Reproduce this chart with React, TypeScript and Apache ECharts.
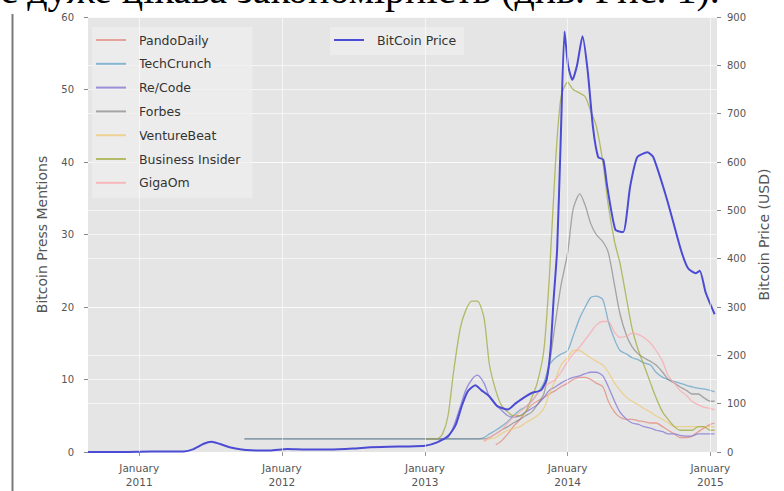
import React, { useEffect, useRef } from 'react';
import * as echarts from 'echarts';

// ---- data ----
const mentionDates = [
  '2011-09-27', '2012-06-01', '2013-01-01', '2013-02-01', '2013-02-15', '2013-03-01', '2013-03-15',
  '2013-04-01', '2013-04-15', '2013-05-01', '2013-05-15', '2013-06-01', '2013-06-15', '2013-07-01',
  '2013-07-15', '2013-08-01', '2013-08-15', '2013-09-01', '2013-09-15', '2013-10-01', '2013-10-15',
  '2013-11-01', '2013-11-15', '2013-12-01', '2013-12-15', '2014-01-01', '2014-01-15', '2014-02-01',
  '2014-02-15', '2014-03-01', '2014-03-15', '2014-04-01', '2014-04-15', '2014-05-01', '2014-05-15',
  '2014-06-01', '2014-06-15', '2014-07-01', '2014-07-15', '2014-08-01', '2014-08-15', '2014-09-01',
  '2014-09-15', '2014-10-01', '2014-10-15', '2014-11-01', '2014-11-15', '2014-12-01', '2014-12-15',
  '2015-01-01', '2015-01-12',
];

const pandoDaily = [
  null, null, null, null, null, null, null, null, null, null, null, null, null, 1.0,
  1.5, 2.5, 3.5, 4.5, 5.5, 6.5, 7, 7.5, 8, 8.5, 9, 9.5, 10, 10.3,
  10.3, 10, 9.5, 9, 7, 5.5, 4.8, 4.5, 4.5, 4.3, 4.2, 4, 4, 3.5,
  3, 2.5, 2, 2, 2.2, 2.8, 3.3, 3.8, 4,
];
const techCrunch = [
  1.8, 1.8, 1.8, 1.8, 1.8, 1.8, 1.8, 1.8, 1.8, 1.8, 1.8, 2.0, 2.5, 3.0,
  3.5, 4.2, 5.0, 5.8, 6.2, 7.0, 8.0, 9.5, 12, 13, 13.5, 14, 16, 18.5,
  20, 21.3, 21.5, 21, 18, 15.5, 14, 13.5, 13, 12.7, 12.3, 12, 11, 10.3,
  10, 9.7, 9.5, 9.2, 9, 8.8, 8.7, 8.5, 8.3,
];
const reCode = [
  null, null, 1.8, 1.8, 1.8, 2, 3.5, 6.2, 8.5, 10, 10.6, 9.5, 7.6, 6.5,
  5.8, 5, 4.8, 5, 5.5, 6, 6.5, 7.5, 8.5, 9, 9.5, 10, 10.3, 10.5,
  10.8, 11, 11, 10.5, 9, 7, 5.5, 4.5, 4, 3.8, 3.5, 3.3, 3, 2.8,
  2.5, 2.5, 2.3, 2.2, 2.2, 2.5, 2.5, 2.5, 2.5,
];
const forbes = [
  1.8, 1.8, 1.8, 1.8, 1.8, 1.8, 1.8, 1.8, 1.8, 1.8, 1.8, 1.8, 2.0, 2.5,
  3.0, 3.5, 4.0, 4.5, 5.0, 5.5, 6.5, 8, 12, 18, 23, 27.5, 33.5, 35.6,
  34, 31.5, 30, 29, 27.5, 23, 19, 16, 14.5, 13.5, 13, 12.5, 12, 11,
  10, 9.5, 9, 8.5, 8, 8, 7.5, 7, 7,
];
const ventureBeat = [
  null, null, null, null, null, null, null, null, null, null, null, 1.5, 1.8, 2,
  2.5, 3, 3.2, 3.5, 4, 4.5, 5, 6, 8, 10, 12, 13, 14, 14,
  13.5, 13, 12.5, 12, 11, 9.5, 8.5, 7.5, 7, 6.5, 6, 5.5, 5, 4.5,
  4, 3.5, 3.5, 3.5, 3.5, 3.5, 3.5, 3.5, 3.5,
];
const businessInsider = [
  null, null, 1.8, 1.8, 2.5, 5, 11, 17, 19.5, 20.8, 20.8, 18.5, 12, 8.5,
  6.5, 5.5, 5, 5, 5.5, 7.5, 9.5, 14, 24, 40, 49, 51, 50, 49.5,
  49, 47, 45, 40, 34, 29, 26, 21, 17, 14, 12, 9.5, 7.5, 5.5,
  4.5, 3.5, 3, 3, 3, 3.5, 3.5, 3, 3,
];
const gigaOm = [
  null, null, null, null, null, null, null, null, null, null, null, 1.5, 2, 2.5,
  3, 4, 4.8, 5.5, 6.2, 7, 8, 9, 9.5, 10, 11, 12.5, 13.5, 14.5,
  15.5, 16.5, 17.5, 18, 18, 16.5, 15.8, 16, 16.4, 16.2, 15.8, 15, 14, 12.5,
  10.5, 9.5, 8.5, 7.8, 7, 6.5, 6.2, 6, 5.8,
];

const priceDates = [
  '2010-08-23', '2010-10-01', '2010-12-01', '2011-02-01', '2011-04-25', '2011-05-20', '2011-06-15',
  '2011-07-05', '2011-07-25', '2011-08-20', '2011-09-20', '2011-10-15', '2011-12-01', '2012-01-15',
  '2012-03-01', '2012-05-01', '2012-07-01', '2012-08-15', '2012-10-01', '2012-11-15', '2013-01-01',
  '2013-02-01', '2013-03-01', '2013-03-20', '2013-04-05', '2013-04-20', '2013-05-10', '2013-05-25',
  '2013-06-15', '2013-07-05', '2013-08-01', '2013-08-20', '2013-09-10', '2013-10-01', '2013-10-25',
  '2013-11-08', '2013-11-18', '2013-11-26', '2013-12-05', '2013-12-14', '2013-12-24', '2014-01-02',
  '2014-01-13', '2014-01-25', '2014-02-08', '2014-02-21', '2014-03-07', '2014-03-20', '2014-04-02',
  '2014-04-12', '2014-05-03', '2014-05-23', '2014-06-10', '2014-06-28', '2014-07-24', '2014-08-08',
  '2014-09-13', '2014-10-17', '2014-11-05', '2014-11-25', '2014-12-05', '2014-12-20', '2015-01-12',
];
const priceValues = [
  0.07, 0.1, 0.25, 0.8, 1, 6, 17,
  21, 17, 10, 5, 3.5, 3, 6,
  5, 5, 7, 10, 11, 11.5, 13,
  20, 33, 55, 95, 125, 138, 128,
  115, 95, 88, 100, 112, 122, 128,
  150, 211, 315, 418, 640, 870, 800,
  770, 800, 860, 790, 670, 610, 605,
  550, 460, 455, 550, 610, 620, 610,
  520, 420, 380, 370, 375, 330, 285,
];

const yearTicks = ['2011-01-01', '2012-01-01', '2013-01-01', '2014-01-01', '2015-01-01'];
const mentionNames = ['PandoDaily', 'TechCrunch', 'Re/Code', 'Forbes', 'VentureBeat', 'Business Insider', 'GigaOm'];
const priceName = 'BitCoin Price';
const topText = 'є дуже цікава закономірність (див. Рис. 1).';

// ---- styles ----
const mentionColors = [
  'rgba(226,74,51,0.45)',
  'rgba(52,138,189,0.55)',
  'rgba(140,128,215,0.85)',
  'rgba(119,119,119,0.6)',
  'rgba(240,200,110,0.7)',
  'rgba(160,170,60,0.75)',
  'rgba(250,170,175,0.8)',
];
const priceColor = '#4b4bd4';
const FONT = '"DejaVu Sans", sans-serif';

const ts = (d: string) => {
  const [y, m, dd] = d.split('-').map(Number);
  return Date.UTC(y, m - 1, dd);
};
const pair = (dates: string[], vals: (number | null)[]) => dates.map((d, i) => [ts(d), vals[i]]);

export default function App() {
  const ref = useRef<HTMLDivElement>(null);

  useEffect(() => {
    if (!ref.current) return;
    const chart = echarts.init(ref.current, null, { renderer: 'svg' });
    const mentionSeriesData = [pandoDaily, techCrunch, reCode, forbes, ventureBeat, businessInsider, gigaOm];

    const series: any[] = mentionNames.map((name, i) => ({
      name,
      type: 'line',
      yAxisIndex: 0,
      data: pair(mentionDates, mentionSeriesData[i]),
      showSymbol: false,
      smooth: 0.25,
      color: mentionColors[i],
      lineStyle: { width: 1.3, color: mentionColors[i] },
      itemStyle: { color: mentionColors[i] },
      z: 3,
    }));
    series.unshift({
      name: '__grid',
      type: 'line',
      yAxisIndex: 0,
      data: [],
      markLine: {
        silent: true,
        symbol: 'none',
        label: { show: false },
        lineStyle: { color: 'rgba(255,255,255,0.6)', width: 1, type: 'solid' },
        data: yearTicks.map((d) => ({ xAxis: ts(d) })),
      },
      z: 1,
    });
    series.push({
      name: priceName,
      type: 'line',
      yAxisIndex: 1,
      data: pair(priceDates, priceValues),
      showSymbol: false,
      smooth: 0.2,
      color: priceColor,
      lineStyle: { width: 2, color: priceColor },
      itemStyle: { color: priceColor },
      z: 4,
    });

    const yearVals = yearTicks.map(ts);

    chart.setOption({
      animation: false,
      backgroundColor: '#ffffff',
      textStyle: { fontFamily: FONT },
      grid: {
        left: 88, right: 67, top: 17, bottom: 39,
        show: true, backgroundColor: '#e5e5e5', borderWidth: 0,
      },
      legend: [
        {
          data: mentionNames,
          orient: 'vertical',
          left: 92, top: 27,
          icon: 'rect', itemWidth: 30, itemHeight: 2, itemGap: 9.8,
          textStyle: { fontSize: 12.5, color: '#333', fontFamily: FONT, lineHeight: 14, padding: [0, 0, 0, 8] },
          backgroundColor: 'rgba(240,240,240,0.7)',
          padding: [6, 12, 8, 4],
        },
        {
          data: [priceName],
          left: 330, top: 27,
          icon: 'rect', itemWidth: 30, itemHeight: 2,
          textStyle: { fontSize: 12.5, color: '#333', fontFamily: FONT, lineHeight: 14, padding: [0, 0, 0, 8] },
          backgroundColor: 'rgba(240,240,240,0.7)',
          padding: [6, 8, 8, 4],
        },
      ],
      xAxis: {
        type: 'value',
        min: ts('2010-08-23'),
        max: ts('2015-01-18'),
        axisLine: { show: false },
        axisTick: { show: true, customValues: yearVals, length: 4, lineStyle: { color: '#999' } },
        splitLine: { show: false },
        axisLabel: {
          customValues: yearVals,
          formatter: (v: number) => 'January\n' + new Date(v).getUTCFullYear(),
          color: '#555', fontSize: 10.5, lineHeight: 14, margin: 9, fontFamily: FONT,
        },
      },
      yAxis: [
        {
          type: 'value', min: 0, max: 60, interval: 10, position: 'left',
          name: 'Bitcoin Press Mentions', nameLocation: 'middle', nameGap: 39, nameRotate: 90,
          nameTextStyle: { fontSize: 14, color: '#555', fontFamily: FONT },
          axisLine: { show: false },
          axisTick: { show: true, length: 4, lineStyle: { color: '#888' } },
          axisLabel: { color: '#555', fontSize: 10, margin: 14, fontFamily: FONT },
          splitLine: { show: true, lineStyle: { color: 'rgba(255,255,255,0.6)', width: 1 } },
        },
        {
          type: 'value', min: 0, max: 900, interval: 100, position: 'right',
          name: 'Bitcoin Price (USD)', nameLocation: 'middle', nameGap: 40, nameRotate: 90,
          nameTextStyle: { fontSize: 14, color: '#555', fontFamily: FONT },
          axisLine: { show: false },
          axisTick: { show: true, length: 4, lineStyle: { color: '#888' } },
          axisLabel: { color: '#555', fontSize: 10, margin: 10, fontFamily: FONT },
          splitLine: { show: true, lineStyle: { color: 'rgba(255,255,255,0.6)', width: 1 } },
        },
      ],
      graphic: [
        {
          type: 'line',
          shape: { x1: 12.5, y1: 14, x2: 12.5, y2: 491 },
          style: { stroke: '#7a7a7a', lineWidth: 2 },
        },
        {
          type: 'text',
          x: 0, y: -11,
          style: {
            text: topText,
            font: '40px "Liberation Serif", "Times New Roman", serif',
            fill: '#000',
            verticalAlign: 'middle',
            align: 'left',
          },
        },
      ],
      series,
    });
    return () => chart.dispose();
  }, []);

  return (
    <div
      ref={ref}
      style={{ position: 'fixed', left: 0, top: 0, width: 784, height: 491, background: '#fff' }}
    />
  );
}
